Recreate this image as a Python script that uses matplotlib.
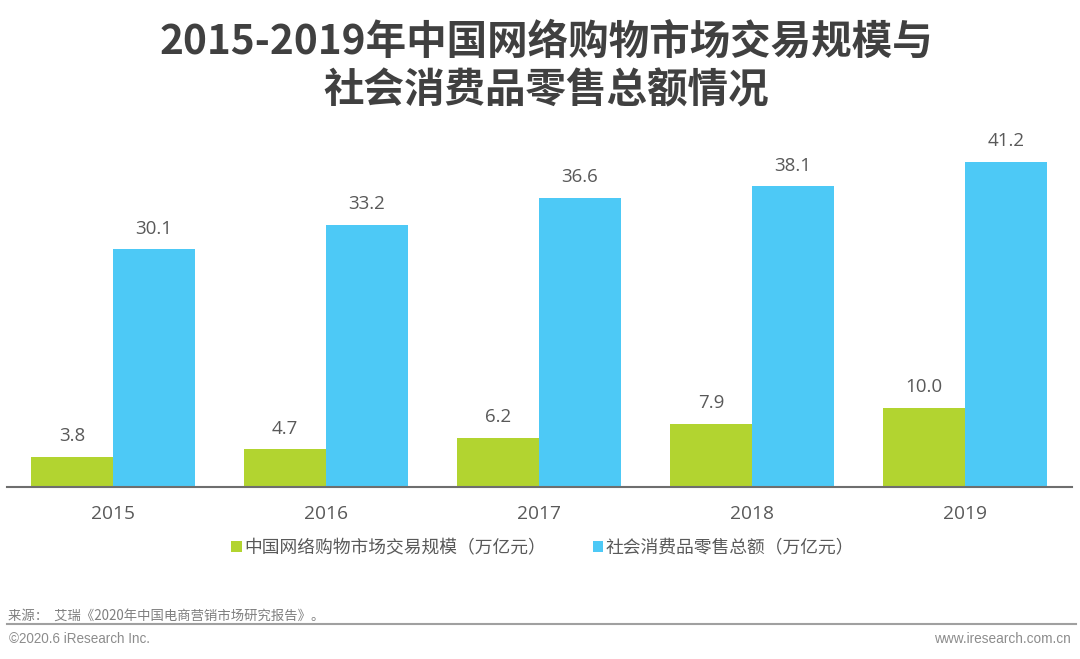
import matplotlib
matplotlib.use("Agg")
import matplotlib.pyplot as plt
import numpy as np

plt.rcParams['font.family'] = ['Noto Sans CJK SC', 'DejaVu Sans']

years = ['2015', '2016', '2017', '2018', '2019']
online = [3.8, 4.7, 6.2, 7.9, 10.0]
retail = [30.1, 33.2, 36.6, 38.1, 41.2]
online_name = '中国网络购物市场交易规模（万亿元）'
retail_name = '社会消费品零售总额（万亿元）'
title = '2015-2019年中国网络购物市场交易规模与\n社会消费品零售总额情况'
source = '来源：  艾瑞《2020年中国电商营销市场研究报告》。'

W, H = 1080, 659
GREEN = '#B2D430'
BLUE = '#4DC9F6'
TEXT = '#595959'
latin = ['Open Sans', 'Noto Sans CJK SC']

fig = plt.figure(figsize=(W / 100, H / 100), dpi=100)
ax = fig.add_axes([6.5 / W, 1 - 486.5 / H, 1065 / W, 366.5 / H])

x = np.arange(len(years))
w = 82 / 213
b1 = ax.bar(x - w / 2, online, w, color=GREEN, label=online_name)
b2 = ax.bar(x + w / 2, retail, w, color=BLUE, label=retail_name)
ax.bar_label(b1, fmt='%.1f', padding=8.5, fontsize=13.5, color=TEXT, family=latin)
ax.bar_label(b2, fmt='%.1f', padding=8.5, fontsize=13.5, color=TEXT, family=latin)

ax.set_xlim(-0.5, 4.5)
ax.set_ylim(0, 46.53)
ax.set_yticks([])
ax.set_xticks(x)
ax.set_xticklabels(years, fontsize=13.8, color=TEXT, family=latin)
ax.tick_params(axis='x', length=0, pad=13)
for s in ['top', 'left', 'right']:
    ax.spines[s].set_visible(False)
ax.spines['bottom'].set_color('#6E6E6E')
ax.spines['bottom'].set_linewidth(1.5)

ax.legend(loc='center left', bbox_to_anchor=(231 / W, 1 - 548 / H), bbox_transform=fig.transFigure,
          ncols=2, frameon=False, fontsize=12.8, labelcolor=TEXT,
          handlelength=0.6, handleheight=0.6, handletextpad=0.15, columnspacing=2.62,
          borderpad=0, borderaxespad=0)

fig.text(546 / W, 1 - 66.5 / H, title, ha='center', va='center', fontsize=29.2, fontweight='bold',
         color='#404040', linespacing=1.25)

fig.add_artist(plt.Line2D([7 / W, 1076 / W], [1 - 624 / H, 1 - 624 / H], color='#A0A0A0', lw=1.5))
fig.text(8 / W, 1 - 616 / H, source, ha='left', va='center', fontsize=9.6, color='#7F7F7F')
fig.text(9 / W, 1 - 639 / H, '©2020.6 iResearch Inc.', ha='left', va='center', fontsize=9.75,
         color='#8C8C8C', family=['Liberation Sans'])
fig.text(1071 / W, 1 - 639 / H, 'www.iresearch.com.cn', ha='right', va='center', fontsize=9.8,
         color='#8C8C8C', family=['Liberation Sans'])

fig.savefig('out.png', dpi=100)
